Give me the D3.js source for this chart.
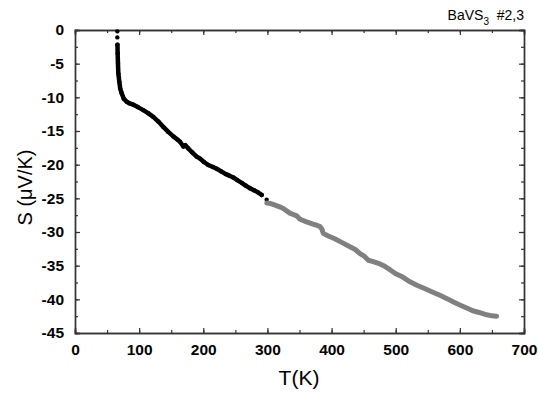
<!DOCTYPE html>
<html><head><meta charset="utf-8">
<script src="https://cdn.jsdelivr.net/npm/d3@7/dist/d3.min.js"></script>
<style>body{margin:0;background:#fff}svg{display:block}</style>
</head><body>
<script>
// Data (T in K, S in µV/K)
const blackT = [66, 66, 66.2, 66.5, 67, 67.6, 69.1, 70.5, 72.8, 76, 80.6, 85, 91, 98, 106.5, 114, 122, 130, 137.7, 145, 153.3, 160, 163.7, 168.9, 172, 176.7, 183, 189.7, 195, 201, 207.8, 215, 220.9, 228, 235, 240, 246.8, 253, 260, 266, 272.8, 279, 285, 291, 298.8];
const blackS = [-0.2, -1.1, -2.2, -3.5, -5.0, -6.5, -7.7, -8.7, -9.4, -10.2, -10.65, -10.9, -11.1, -11.45, -11.9, -12.35, -12.9, -13.6, -14.4, -15.1, -15.8, -16.3, -16.6, -17.3, -17.1, -17.6, -18.2, -18.8, -19.1, -19.6, -20.05, -20.35, -20.6, -21.0, -21.4, -21.6, -21.9, -22.3, -22.7, -23.1, -23.5, -23.8, -24.1, -24.5, -25.2];
const greyT = [299, 304, 312, 320, 324.7, 335, 345.6, 350.8, 360, 370, 377, 382, 385, 387, 395, 405, 415, 428.7, 437, 444.3, 451, 457.3, 465, 475.5, 483, 491, 500, 511, 522.3, 533, 545, 557, 569, 580, 590, 600, 610.7, 620, 630, 641.9, 650, 657.4];
const greyS = [-25.7, -25.75, -26.0, -26.3, -26.5, -27.2, -27.6, -28.1, -28.45, -28.8, -29.0, -29.2, -29.6, -30.2, -30.6, -31.0, -31.5, -32.2, -32.6, -33.2, -33.6, -34.2, -34.4, -34.75, -35.1, -35.6, -36.2, -36.7, -37.4, -37.9, -38.4, -38.9, -39.4, -39.9, -40.4, -40.85, -41.3, -41.7, -41.95, -42.3, -42.45, -42.5];
const xTicks = [0, 100, 200, 300, 400, 500, 600, 700];
const yTicks = [0, -5, -10, -15, -20, -25, -30, -35, -40, -45];

const W = 539, H = 394;
const m = {left: 75, right: 15, top: 30, bottom: 61};
const svg = d3.select("body").append("svg").attr("width", W).attr("height", H);
const x = d3.scaleLinear().domain([0, 700]).range([m.left, W - m.right]);
const y = d3.scaleLinear().domain([-45, 0]).range([H - m.bottom, m.top]);
const axisColor = "#333";
const font = "Arial, 'Liberation Sans', sans-serif";

const xMinor = d3.range(0, 701, 50);
const yMinor = d3.range(-45, 0.1, 2.5);

function styleAxis(g) {
  g.select(".domain").attr("stroke", axisColor).attr("stroke-width", 1.4);
  g.selectAll(".tick line").attr("stroke", axisColor).attr("stroke-width", 1.2);
  g.selectAll(".tick text").attr("font-family", font).attr("font-weight", "bold").attr("font-size", "15.5px").attr("fill", "#000");
}
const minorX = (a) => a.tickValues(xMinor).tickSize(-3).tickFormat("");
const minorY = (a) => a.tickValues(yMinor).tickSize(-3).tickFormat("");

svg.append("g").attr("transform", `translate(0,${y(-45)})`).call(minorX(d3.axisBottom(x))).call(styleAxis);
svg.append("g").attr("transform", `translate(0,${y(0)})`).call(minorX(d3.axisTop(x))).call(styleAxis);
svg.append("g").attr("transform", `translate(${x(0)},0)`).call(minorY(d3.axisLeft(y))).call(styleAxis);
svg.append("g").attr("transform", `translate(${x(700)},0)`).call(minorY(d3.axisRight(y))).call(styleAxis);

svg.append("g").attr("transform", `translate(0,${y(-45)})`)
  .call(d3.axisBottom(x).tickValues(xTicks).tickSize(-5).tickPadding(11).tickFormat(d3.format("d")))
  .call(styleAxis);
svg.append("g").attr("transform", `translate(0,${y(0)})`)
  .call(d3.axisTop(x).tickValues(xTicks).tickSize(-5).tickFormat("")).call(styleAxis);
svg.append("g").attr("transform", `translate(${x(0)},0)`)
  .call(d3.axisLeft(y).tickValues(yTicks).tickSize(-5).tickPadding(11).tickFormat(d => d === 0 ? "0" : "-" + Math.abs(d)))
  .call(styleAxis);
svg.append("g").attr("transform", `translate(${x(700)},0)`)
  .call(d3.axisRight(y).tickValues(yTicks).tickSize(-5).tickFormat("")).call(styleAxis);

const black = blackT.map((t, i) => [t, blackS[i]]);
const grey = greyT.map((t, i) => [t, greyS[i]]);
const line = d3.line().x(d => x(d[0])).y(d => y(d[1]));

svg.append("path").datum(black.slice(2, black.length - 1)).attr("d", line)
  .attr("fill", "none").attr("stroke", "#000").attr("stroke-width", 4.5)
  .attr("stroke-linejoin", "round").attr("stroke-linecap", "round");
svg.append("g").selectAll("circle").data(black).join("circle")
  .attr("cx", d => x(d[0])).attr("cy", d => y(d[1])).attr("r", 2.2).attr("fill", "#000");

svg.append("path").datum(grey).attr("d", line)
  .attr("fill", "none").attr("stroke", "#808080").attr("stroke-width", 5)
  .attr("stroke-linejoin", "round").attr("stroke-linecap", "round");

svg.append("text").attr("x", 299).attr("y", 385).attr("text-anchor", "middle")
  .attr("font-family", font).attr("font-size", "21px").text("T(K)");
svg.append("text").attr("transform", `translate(32,${(y(-45)+y(0))/2 + 6}) rotate(-90)`).attr("text-anchor", "middle")
  .attr("font-family", font).attr("font-size", "20px").text("S (\u03BCV/K)");
const title = svg.append("text").attr("x", 524).attr("y", 20).attr("text-anchor", "end")
  .attr("font-family", font).attr("font-size", "14px");
title.append("tspan").text("BaVS");
title.append("tspan").attr("font-size", "10px").attr("dy", 5).text("3");
title.append("tspan").attr("dy", -5).text("\u00A0 #2,3");
</script>
</body></html>
